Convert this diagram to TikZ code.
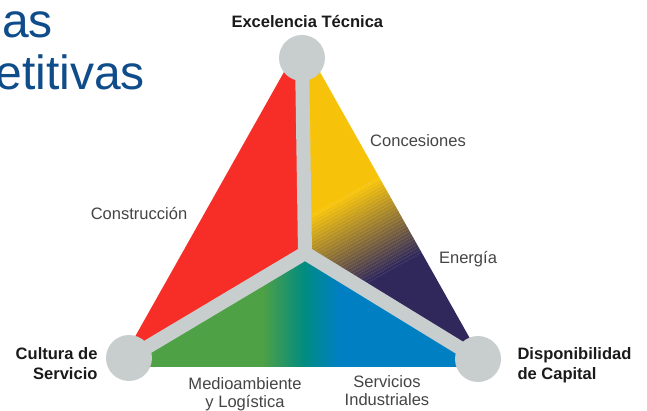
\documentclass[tikz,border=0pt]{standalone}
\usepackage{fontspec}
\setmainfont{Liberation Sans}
\usetikzlibrary{positioning}

\definecolor{sectorred}{HTML}{F62E27}
\definecolor{sectoryellow}{HTML}{F6C30A}
\definecolor{sectornavy}{HTML}{30285A}
\definecolor{sectorgreen}{HTML}{4EA145}
\definecolor{sectorteal}{HTML}{008B82}
\definecolor{sectorblue}{HTML}{0080C2}
\definecolor{ringgray}{HTML}{C8CDCE}
\definecolor{titleblue}{HTML}{0F4C8A}
\definecolor{labelgray}{HTML}{444444}
\definecolor{labelblack}{HTML}{1A1A1A}

\begin{document}
\begin{tikzpicture}[
  x=0.75pt,
  y=0.75pt,
  vertex/.style={
    circle,
    fill=ringgray,
    inner sep=0pt,
    minimum size=34.5pt
  },
  spoke/.style={
    draw=ringgray,
    line width=10.5pt,
    line cap=butt,
    line join=miter
  },
  pillar/.style={
    font=\bfseries\fontsize{12.4}{15}\selectfont,
    text=labelblack,
    inner sep=0pt
  },
  sector/.style={
    font=\fontsize{12.4}{14}\selectfont,
    text=labelgray,
    inner sep=0pt,
    align=center
  },
  heading/.style={
    font=\fontsize{36}{40}\selectfont,
    text=titleblue,
    inner sep=0pt
  }
]

\useasboundingbox (0,0) rectangle (647,411);
\clip (0,0) rectangle (647,411);

% Corners
\coordinate (apex) at (302,371);
\coordinate (left) at (118,44);
\coordinate (right) at (486,44);
\coordinate (hub) at (305,158);

% Sectors
\fill[sectorred] (apex) -- (hub) -- (left) -- cycle;

\begin{scope}
  \clip (apex) -- (hub) -- (right) -- cycle;
  \begin{scope}[shift={(312,196)}, rotate=29.2]
    \fill[sectoryellow] (-300,0) rectangle (300,300);
    \foreach \i in {0,...,28}
      \fill[sectoryellow!\fpeval{100-\i*100/28}!sectornavy]
        (-300,-3*\i) rectangle (300,-3*\i-3.3);
    \fill[sectornavy] (-300,-400) rectangle (300,-87);
    \foreach \s in {-86,-83,...,-2}
      \draw[white, opacity=0.15, line width=0.3pt] (-300,\s) -- (300,\s);
  \end{scope}
\end{scope}

\begin{scope}
  \clip (left) -- (hub) -- (right) -- cycle;
  \fill[sectorgreen] (100,0) rectangle (263,200);
  \shade[left color=sectorgreen, right color=sectorteal] (262.5,0) rectangle (305,200);
  \shade[left color=sectorteal, right color=sectorblue] (304.5,0) rectangle (338,200);
  \fill[sectorblue] (337.5,0) rectangle (520,200);
\end{scope}

% Vertices
\node[vertex] (tec) at (302,353) {};
\node[vertex] (cul) at (129,53) {};
\node[vertex] (cap) at (478,52) {};

% Spokes
\draw[spoke] (tec.center) -- (hub) -- (cul.center);
\draw[spoke] (hub) -- (cap.center);

% Pillar labels
\node[pillar, above=5pt of tec, xshift=4pt] (teclabel) {Excelencia Técnica};
\node[pillar, align=right, left=6pt of cul, yshift=-4.5pt] (cullabel) {Cultura de\\Servicio};
\node[pillar, align=left, right=12pt of cap, yshift=-4.5pt] (caplabel) {Disponibilidad\\de Capital};

% Sector labels
\node[sector, anchor=base] (concesiones) at (418,264) {Concesiones};
\node[sector, anchor=base] (construccion) at (139,191) {Construcción};
\node[sector, anchor=base] (energia) at (468,147) {Energía};
\node[sector, anchor=base] (medio) at (245,3) {Medioambiente\\y Logística};
\node[sector, anchor=base] (servicios) at (387,5) {Servicios\\Industriales};

% Title
\node[heading, anchor=base east] (titletop) at (53,373) {as};
\node[heading, anchor=base east] (titlebottom) at (145,321) {etitivas};

\end{tikzpicture}
\end{document}
